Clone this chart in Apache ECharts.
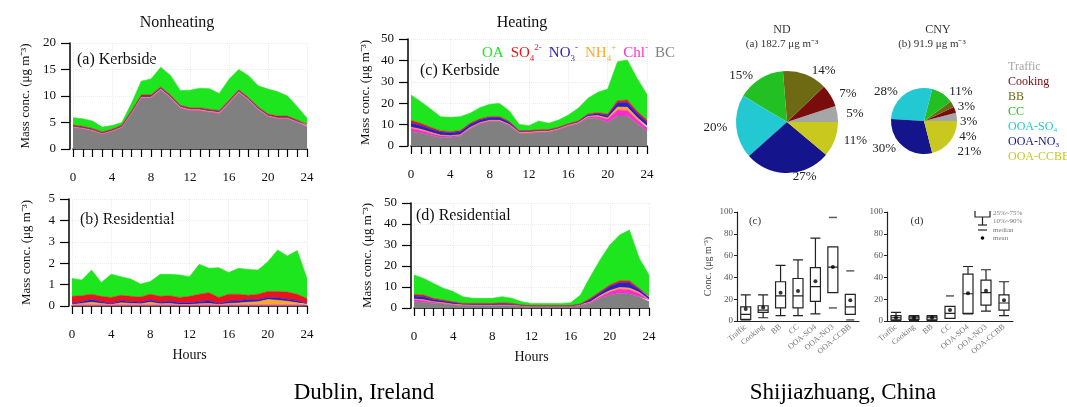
<!DOCTYPE html>
<html>
<head>
<meta charset="utf-8">
<script src="https://cdn.jsdelivr.net/npm/echarts@6/dist/echarts.min.js"></script>
<style>
  html, body { margin: 0; padding: 0; background: #fff; }
  #chart { width: 1067px; height: 407px; }
</style>
</head>
<body>
<div id="chart"></div>
<script>
// hours of the day
const hours = ['0','1','2','3','4','5','6','7','8','9','10','11','12','13','14','15','16','17','18','19','20','21','22','23','24'];

// (a) nonheating kerbside
const aBC  = [4.0,3.8,3.4,2.8,3.3,4.0,6.7,9.6,9.6,11.1,9.6,7.7,7.2,7.2,6.9,6.7,8.6,10.6,9.2,7.4,6.1,5.7,5.7,5.0,4.2];
const aChl = [0.06,0.05,0.05,0.05,0.05,0.05,0.06,0.07,0.07,0.08,0.07,0.06,0.06,0.06,0.06,0.06,0.07,0.08,0.07,0.06,0.06,0.05,0.05,0.05,0.05];
const aNH4 = [0.10,0.10,0.10,0.08,0.08,0.10,0.12,0.15,0.15,0.15,0.15,0.15,0.18,0.18,0.18,0.18,0.15,0.15,0.12,0.12,0.12,0.12,0.12,0.10,0.10];
const aNO3 = [0.15,0.15,0.15,0.12,0.12,0.15,0.15,0.18,0.18,0.18,0.17,0.17,0.16,0.16,0.16,0.16,0.15,0.15,0.14,0.14,0.14,0.14,0.14,0.14,0.14];
const aSO4 = [0.20,0.20,0.18,0.18,0.18,0.18,0.18,0.20,0.20,0.20,0.20,0.18,0.18,0.18,0.18,0.18,0.20,0.20,0.20,0.20,0.20,0.20,0.20,0.20,0.20];
const aOA  = [1.4,1.4,1.4,0.9,0.7,0.5,1.4,2.6,3.0,3.7,3.7,2.8,3.3,3.7,3.9,3.2,4.0,3.8,4.1,4.0,4.7,4.6,3.8,2.5,1.1];

// (b) nonheating residential
const bBC  = [0.02,0.02,0.02,0.02,0.02,0.02,0.02,0.02,0.02,0.02,0.02,0.02,0.02,0.02,0.02,0.02,0.02,0.02,0.02,0.02,0.02,0.02,0.02,0.02,0.02];
const bChl = [0.03,0.03,0.03,0.03,0.03,0.03,0.03,0.03,0.03,0.03,0.03,0.03,0.03,0.03,0.03,0.03,0.03,0.03,0.03,0.03,0.03,0.03,0.03,0.03,0.03];
const bNH4 = [0.02,0.07,0.13,0.07,0.02,0.10,0.07,0.05,0.13,0.05,0.07,0.02,0.02,0.05,0.07,0.02,0.07,0.09,0.13,0.15,0.25,0.22,0.17,0.10,0.01];
const bNO3 = [0.05,0.08,0.12,0.08,0.05,0.10,0.08,0.08,0.10,0.08,0.10,0.08,0.08,0.10,0.13,0.05,0.10,0.11,0.12,0.10,0.10,0.11,0.10,0.10,0.04];
const bSO4 = [0.33,0.28,0.25,0.25,0.28,0.25,0.25,0.24,0.27,0.27,0.26,0.25,0.30,0.35,0.37,0.28,0.33,0.30,0.20,0.25,0.28,0.30,0.33,0.30,0.25];
const bOA  = [0.84,0.73,1.13,0.65,1.08,0.87,0.81,0.61,0.59,1.03,1.00,1.05,0.92,1.40,1.14,1.39,1.01,1.21,1.21,1.13,1.39,1.94,1.69,2.04,0.94];

// (c) heating kerbside
const cBC  = [6.7,6.0,5.0,4.0,4.0,4.6,8.0,10.3,11.4,11.4,9.5,6.0,5.8,6.3,6.4,7.6,9.2,10.3,13.0,12.8,11.0,14.0,14.0,10.5,7.0];
const cChl = [1.5,1.3,1.0,0.8,0.5,0.4,0.4,0.3,0.3,0.3,0.3,0.3,0.3,0.3,0.3,0.3,0.3,0.4,0.6,1.0,1.5,2.8,2.6,1.8,1.5];
const cNH4 = [0.6,0.5,0.4,0.3,0.3,0.3,0.3,0.3,0.3,0.3,0.3,0.2,0.4,0.3,0.3,0.3,0.3,0.3,0.3,0.4,0.6,1.4,1.5,1.0,0.8];
const cNO3 = [2.0,1.8,1.6,1.4,1.4,1.4,1.4,1.3,1.3,1.3,1.0,0.4,0.4,0.4,0.4,0.3,0.3,0.4,0.7,0.9,1.2,2.0,2.2,1.9,1.8];
const cSO4 = [1.2,1.0,0.8,0.6,0.5,0.5,0.5,0.5,0.5,0.5,0.4,0.3,0.3,0.3,0.3,0.3,0.3,0.3,0.4,0.5,0.6,1.0,1.2,1.0,1.0];
const cOA  = [11.8,10.1,8.5,6.6,6.7,6.5,4.7,5.2,5.7,6.1,4.9,2.9,2.3,4.1,2.9,3.3,4.1,5.9,7.3,9.5,11.7,18.2,18.7,15.4,12.0];

// (d) heating residential
const dBC  = [3.0,2.7,2.2,1.9,1.4,1.2,1.1,1.1,1.1,1.1,1.1,1.0,0.8,0.8,0.8,0.8,0.8,1.4,2.2,4.6,6.2,7.0,6.7,5.4,3.0];
const dChl = [1.0,0.9,0.6,0.4,0.3,0.2,0.2,0.2,0.2,0.2,0.2,0.1,0.05,0.05,0.05,0.05,0.05,0.1,0.4,0.8,1.4,2.0,2.0,1.5,0.8];
const dNH4 = [0.3,0.3,0.2,0.2,0.1,0.1,0.1,0.1,0.1,0.1,0.1,0.05,0.05,0.05,0.05,0.05,0.05,0.1,0.3,0.5,0.7,0.8,0.8,0.6,0.3];
const dNO3 = [1.4,1.5,1.0,0.8,0.8,0.4,0.5,0.5,0.5,0.7,0.5,0.15,0.12,0.12,0.12,0.12,0.12,0.2,1.1,1.3,1.9,2.2,2.4,1.3,1.0];
const dSO4 = [0.8,0.8,0.6,0.5,0.4,0.3,0.3,0.3,0.3,0.4,0.3,0.1,0.08,0.08,0.08,0.08,0.08,0.1,0.6,0.6,0.8,1.0,1.1,0.6,0.6];
const dOA  = [9.2,7.9,7.1,5.6,4.8,3.2,2.4,2.4,2.4,2.9,2.4,1.6,1.1,1.1,1.1,1.1,1.4,4.3,10.3,15.1,19.0,21.8,24.1,14.3,10.0];

// PMF factor pies
const factors = ['Traffic','Cooking','BB','CC','OOA-SO₄','OOA-NO₃','OOA-CCBB'];
const ndPct  = [5,7,14,15,20,27,11];
const cnyPct = [4,3,3,11,28,30,21];

// box plots: [low, Q1, median, Q3, high]
const boxCats = ['Traffic','Cooking','BB','CC','OOA-SO4','OOA-NO3','OOA-CCBB'];
const boxND = [[1,1.5,6,13,24],[3,8,10,14,24],[5,12,23,36,51],[5,12,23,39,56],[6.5,18,31.5,49,76],[26,26,49.5,68,68],[6,6,13,24.5,24.5]];
const meanND = [11,12.5,26,27.5,36.5,49.5,19];
const extraND = [[5,95],[5,12],[6,46],[6,1]];
const boxCNY = [[0,1,3,5,8],[0.5,1.5,3,4.5,5],[0.5,1,3,4.5,5],[2.5,2.5,7,13.5,13.5],[6.5,7,25,43,50],[9,14.5,26,37.5,47],[5,10,16.5,24,36]];
const meanCNY = [3,3,3,10,25.5,27.7,19];
const extraCNY = [[3,23]];

const serif = 'Liberation Serif';
const layerNames = ['BC','Chl','NH4','NO3','SO4','OA'];
const layerColors = { OA:'#1ee61e', SO4:'#e8141e', NO3:'#2a1ec8', NH4:'#ffa82a', Chl:'#ff2ad2', BC:'#808080' };
const factorColors = ['#a6a6a6','#7a0c0c','#6e6a14','#22c022','#22c8d2','#14148c','#c8c81e'];

const chart = echarts.init(document.getElementById('chart'));

const areaGrids = [
  { left: 73, top: 43, width: 234, height: 106, max: 20, interval: 5, gap: 38, hours: false },
  { left: 72, top: 199, width: 235, height: 107, max: 5, interval: 1, gap: 36, hours: true },
  { left: 411, top: 39, width: 236, height: 107, max: 50, interval: 10, gap: 36, hours: false },
  { left: 414, top: 203, width: 235, height: 105, max: 50, interval: 10, gap: 37, hours: true }
];
const areaData = [
  [aBC,aChl,aNH4,aNO3,aSO4,aOA],
  [bBC,bChl,bNH4,bNO3,bSO4,bOA],
  [cBC,cChl,cNH4,cNO3,cSO4,cOA],
  [dBC,dChl,dNH4,dNO3,dSO4,dOA]
];

const grids = [], xAxes = [], yAxes = [], series = [];

areaGrids.forEach((g, gi) => {
  grids.push({ left: g.left, top: g.top, width: g.width, height: g.height });
  xAxes.push({
    gridIndex: gi, type: 'category', data: hours, boundaryGap: false, offset: 4,
    name: g.hours ? 'Hours' : '', nameLocation: 'middle', nameGap: 38,
    nameTextStyle: { fontFamily: serif, fontSize: 14, color: '#111' },
    axisLine: { lineStyle: { color: '#000', width: 1.5 } },
    axisTick: { interval: 0, length: 8, lineStyle: { color: '#000', width: 1.2 } },
    axisLabel: { interval: 3, margin: 18, fontFamily: serif, fontSize: 13, color: '#111' },
    splitLine: { show: true, interval: 3, lineStyle: { color: '#ececec', type: 'dotted' } }
  });
  yAxes.push({
    gridIndex: gi, type: 'value', min: 0, max: g.max, interval: g.interval, offset: 3,
    name: 'Mass conc. (μg m⁻³)', nameLocation: 'middle', nameGap: g.gap, nameRotate: 90,
    nameTextStyle: { fontFamily: serif, fontSize: 13, color: '#111' },
    axisLine: { show: true, lineStyle: { color: '#000', width: 1.5 } },
    axisTick: { show: true, length: 9, lineStyle: { color: '#000', width: 1.2 } },
    axisLabel: { margin: 14, fontFamily: serif, fontSize: 13, color: '#111' },
    splitLine: { show: true, lineStyle: { color: '#ececec', type: 'dotted' } }
  });
  layerNames.forEach((nm, k) => {
    series.push({
      name: nm, type: 'line', xAxisIndex: gi, yAxisIndex: gi, stack: 'g' + gi,
      symbol: 'none', silent: true,
      data: areaData[gi][k],
      lineStyle: { width: 0.6, color: layerColors[nm] },
      itemStyle: { color: layerColors[nm] },
      areaStyle: { color: layerColors[nm], opacity: 1 }
    });
  });
});

// box plot grids
const boxGrids = [
  { left: 737, top: 212, width: 122, height: 109, name: 'Conc. (μg m⁻³)' },
  { left: 887, top: 212, width: 126, height: 109, name: '' }
];
const boxSets = [[boxND, meanND, extraND], [boxCNY, meanCNY, extraCNY]];
boxGrids.forEach((g, bi) => {
  const gi = 4 + bi;
  grids.push({ left: g.left, top: g.top, width: g.width, height: g.height });
  xAxes.push({
    gridIndex: gi, type: 'category', data: boxCats,
    axisLine: { lineStyle: { color: '#222', width: 1.2 } },
    axisTick: { length: 3, alignWithLabel: true, lineStyle: { color: '#222' } },
    axisLabel: { rotate: 40, interval: 0, fontFamily: serif, fontSize: 8, color: '#777', margin: 5 }
  });
  yAxes.push({
    gridIndex: gi, type: 'value', min: 0, max: 100, interval: 20,
    name: g.name, nameLocation: 'middle', nameGap: 24, nameRotate: 90,
    nameTextStyle: { fontFamily: serif, fontSize: 10, color: '#444' },
    axisLine: { show: true, lineStyle: { color: '#222', width: 1.2 } },
    axisTick: { show: true, length: 3, lineStyle: { color: '#222' } },
    axisLabel: { fontFamily: serif, fontSize: 9, color: '#555', margin: 4 },
    splitLine: { show: false }
  });
  const [box, mean, extra] = boxSets[bi];
  series.push({
    type: 'boxplot', xAxisIndex: gi, yAxisIndex: gi, silent: true,
    boxWidth: [10, 10], data: box,
    itemStyle: { color: 'transparent', borderColor: '#222', borderWidth: 1.2 }
  });
  series.push({
    type: 'scatter', xAxisIndex: gi, yAxisIndex: gi, silent: true,
    symbolSize: 4, itemStyle: { color: '#000' },
    data: mean.map((v, i) => [i, v])
  });
  series.push({
    type: 'scatter', xAxisIndex: gi, yAxisIndex: gi, silent: true,
    symbol: 'rect', symbolSize: [8, 1.5], itemStyle: { color: '#333' },
    data: extra
  });
});

// pies
const pieLabel = { formatter: '{c}%', fontFamily: serif, fontSize: 13, color: '#222' };
series.push({
  type: 'pie', center: [787, 122], radius: 51, startAngle: 0, clockwise: false, silent: true,
  data: factors.map((n, i) => ({ name: n, value: ndPct[i], itemStyle: { color: factorColors[i] } })),
  label: pieLabel, labelLine: { show: false, length: 4, length2: 0 }
});
series.push({
  type: 'pie', center: [924, 121], radius: 33, startAngle: 0, clockwise: false, silent: true,
  data: factors.map((n, i) => ({ name: n, value: cnyPct[i], itemStyle: { color: factorColors[i] } })),
  label: pieLabel, labelLine: { show: false, length: 3, length2: 0 }
});

// legend for the aerosol species
const specLegend = {
  OA: '{g|OA}',
  SO4: '{r|SO}{rs|4}{rp|2-}',
  NO3: '{b|NO}{bs|3}{bp|-}',
  NH4: '{o|NH}{os|4}{op|+}',
  Chl: '{m|Chl}{mp|-}',
  BC: '{k|BC}'
};
function tok(c, size, va) {
  return { color: c, fontFamily: serif, fontSize: size, verticalAlign: va, lineHeight: 20 };
}

const txt = (text, x, y, size, align, color) => ({
  type: 'text', x: x, y: y, silent: true,
  style: { text: text, fontFamily: serif, fontSize: size, fill: color || '#111', align: align || 'left', verticalAlign: 'middle' }
});

chart.setOption({
  animation: false,
  grid: grids,
  xAxis: xAxes,
  yAxis: yAxes,
  series: series,
  legend: [
    {
      data: ['OA','SO4','NO3','NH4','Chl','BC'],
      left: 472, top: 38, icon: 'rect', itemWidth: 0, itemHeight: 10, itemGap: 2, selectedMode: false,
      itemStyle: { opacity: 0 }, lineStyle: { opacity: 0 },
      formatter: n => specLegend[n],
      textStyle: {
        rich: {
          g: tok(layerColors.OA, 15, 'middle'),
          r: tok(layerColors.SO4, 15, 'middle'), rs: tok(layerColors.SO4, 9, 'bottom'), rp: tok(layerColors.SO4, 9, 'top'),
          b: tok(layerColors.NO3, 15, 'middle'), bs: tok(layerColors.NO3, 9, 'bottom'), bp: tok(layerColors.NO3, 9, 'top'),
          o: tok(layerColors.NH4, 15, 'middle'), os: tok(layerColors.NH4, 9, 'bottom'), op: tok(layerColors.NH4, 9, 'top'),
          m: tok(layerColors.Chl, 15, 'middle'), mp: tok(layerColors.Chl, 9, 'top'),
          k: tok('#808080', 15, 'middle')
        }
      }
    },
    {
      data: factors.map((n, i) => ({ name: n, textStyle: { color: factorColors[i] } })),
      orient: 'vertical', left: 998, top: 55, icon: 'rect', itemWidth: 0, itemHeight: 10, itemGap: 1, selectedMode: false,
      itemStyle: { opacity: 0 },
      textStyle: { fontFamily: serif, fontSize: 12, lineHeight: 14 }
    }
  ],
  graphic: [
    txt('Nonheating', 177, 23, 16, 'center'),
    txt('Heating', 522, 23, 16, 'center'),
    txt('(a) Kerbside', 77, 60, 16),
    txt('(b) Residential', 80, 220, 16),
    txt('(c) Kerbside', 420, 71, 16),
    txt('(d) Residential', 416, 216, 16),
    txt('ND', 782, 30, 12, 'center', '#333'),
    txt('(a) 182.7 μg m⁻³', 782, 44, 11, 'center', '#333'),
    txt('CNY', 938, 30, 12, 'center', '#333'),
    txt('(b) 91.9 μg m⁻³', 932, 44, 11, 'center', '#333'),
    txt('(c)', 755, 221, 11, 'center', '#333'),
    txt('(d)', 917, 221, 11, 'center', '#333'),
    txt('Dublin, Ireland', 364, 393, 23, 'center', '#000'),
    txt('Shijiazhuang, China', 843, 393, 23, 'center', '#000'),
    // box plot key
    { type: 'polyline', silent: true, shape: { points: [[975, 211], [975, 217], [990, 217], [990, 211]] }, style: { stroke: '#222', lineWidth: 1.2, fill: null } },
    { type: 'line', silent: true, shape: { x1: 982.5, y1: 217, x2: 982.5, y2: 225 }, style: { stroke: '#222', lineWidth: 1.2 } },
    { type: 'line', silent: true, shape: { x1: 978, y1: 225, x2: 987, y2: 225 }, style: { stroke: '#222', lineWidth: 1.2 } },
    { type: 'line', silent: true, shape: { x1: 978, y1: 230, x2: 987, y2: 230 }, style: { stroke: '#222', lineWidth: 1.2 } },
    { type: 'circle', silent: true, shape: { cx: 982.5, cy: 238, r: 1.8 }, style: { fill: '#000' } },
    txt('25%~75%', 993, 213, 7, 'left', '#777'),
    txt('10%~90%', 993, 221, 7, 'left', '#777'),
    txt('median', 993, 230, 7, 'left', '#777'),
    txt('mean', 993, 238, 7, 'left', '#777')
  ]
});
</script>
</body>
</html>
